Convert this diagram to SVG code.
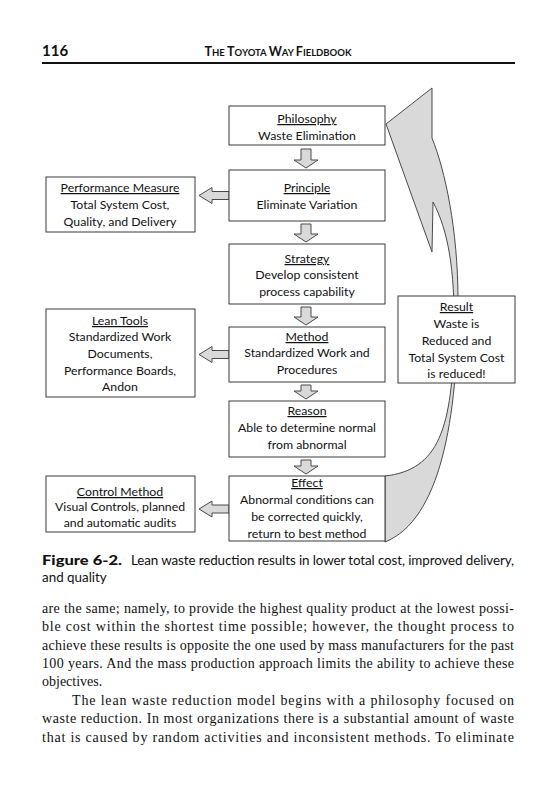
<svg xmlns="http://www.w3.org/2000/svg" width="558" height="800" viewBox="0 0 558 800">
<style>
.box{fill:#fff;stroke:#3a3a3a;stroke-width:1}
.t{font-family:Lato,"Open Sans",sans-serif;font-size:12.3px;fill:#111;text-anchor:middle}
.u{text-decoration:underline}
.arr{fill:#d9d9d9;stroke:#4a4a4a;stroke-width:1}
.body{font-family:"Liberation Serif",serif;font-size:14px;fill:#111}
.cap{font-family:Lato,"Open Sans",sans-serif;font-size:13.4px;fill:#111}
.hdr{font-family:Lato,"Open Sans",sans-serif;font-weight:bold;fill:#111}
</style>
<rect width="558" height="800" fill="#fff"/>
<g id="header">
<text class="hdr" x="42" y="56" font-size="15">116</text>
<text class="hdr" x="278" y="56" text-anchor="middle"><tspan font-size="12.5">T</tspan><tspan font-size="9.5">HE </tspan><tspan font-size="12.5">T</tspan><tspan font-size="9.5">OYOTA </tspan><tspan font-size="12.5">W</tspan><tspan font-size="9.5">AY </tspan><tspan font-size="12.5">F</tspan><tspan font-size="9.5">IELDBOOK</tspan></text>
<line x1="42" y1="63" x2="515" y2="63" stroke="#111" stroke-width="2"/>
</g>
<g id="connectors">
<path id="result-arrow" class="arr" d="M386 124 L432 88 L432 138 C445 170 458 230 458 300 C458 420 440 520 385 542 L385 476 C438 470 453 430 454 330 C455 270 448 230 433 202 L432 252 Z"/>
<path class="arr" d="M301 149 L311 149 L311 160 L318 160 L306 168 L294 160 L301 160 Z"/>
<path class="arr" d="M301 224 L311 224 L311 234 L318 234 L306 242 L294 234 L301 234 Z"/>
<path class="arr" d="M301 307 L311 307 L311 317 L318 317 L306 325 L294 317 L301 317 Z"/>
<path class="arr" d="M301 385 L311 385 L311 391 L318 391 L306 399 L294 391 L301 391 Z"/>
<path class="arr" d="M301 460 L311 460 L311 466 L318 466 L306 474 L294 466 L301 466 Z"/>
<path class="arr" d="M229 191.5 L229 199.5 L212 199.5 L212 203.5 L199 195.5 L212 187.5 L212 191.5 Z"/>
<path class="arr" d="M229 350.5 L229 358.5 L212 358.5 L212 362.5 L199 354.5 L212 346.5 L212 350.5 Z"/>
<path class="arr" d="M229 505 L229 513 L212 513 L212 517 L199 509 L212 501 L212 505 Z"/>
</g>
<g id="philosophy">
<rect class="box" x="229" y="106" width="156" height="39"/>
<text class="t" x="307" y="123"><tspan class="u">Philosophy</tspan></text>
<text class="t" x="307" y="140">Waste Elimination</text>
</g>
<g id="principle">
<rect class="box" x="229" y="170" width="156" height="51"/>
<text class="t" x="307" y="192"><tspan class="u">Principle</tspan></text>
<text class="t" x="307" y="209">Eliminate Variation</text>
</g>
<g id="strategy">
<rect class="box" x="229" y="244" width="156" height="60"/>
<text class="t" x="307" y="263"><tspan class="u">Strategy</tspan></text>
<text class="t" x="307" y="279">Develop consistent</text>
<text class="t" x="307" y="296">process capability</text>
</g>
<g id="method">
<rect class="box" x="229" y="327" width="156" height="55"/>
<text class="t" x="307" y="341"><tspan class="u">Method</tspan></text>
<text class="t" x="307" y="357">Standardized Work and</text>
<text class="t" x="307" y="374">Procedures</text>
</g>
<g id="reason">
<rect class="box" x="229" y="401" width="156" height="56"/>
<text class="t" x="307" y="415"><tspan class="u">Reason</tspan></text>
<text class="t" x="307" y="432">Able to determine normal</text>
<text class="t" x="307" y="449">from abnormal</text>
</g>
<g id="effect">
<rect class="box" x="229" y="476" width="156" height="65"/>
<text class="t" x="307" y="487"><tspan class="u">Effect</tspan></text>
<text class="t" x="307" y="504">Abnormal conditions can</text>
<text class="t" x="307" y="521">be corrected quickly,</text>
<text class="t" x="307" y="538">return to best method</text>
</g>
<g id="performance-measure">
<rect class="box" x="46" y="177" width="149" height="55"/>
<text class="t" x="120" y="192"><tspan class="u">Performance Measure</tspan></text>
<text class="t" x="120" y="209">Total System Cost,</text>
<text class="t" x="120" y="226">Quality, and Delivery</text>
</g>
<g id="lean-tools">
<rect class="box" x="46" y="309" width="149" height="88"/>
<text class="t" x="120" y="325"><tspan class="u">Lean Tools</tspan></text>
<text class="t" x="120" y="341">Standardized Work</text>
<text class="t" x="120" y="358">Documents,</text>
<text class="t" x="120" y="375">Performance Boards,</text>
<text class="t" x="120" y="391">Andon</text>
</g>
<g id="control-method">
<rect class="box" x="46" y="476" width="149" height="56"/>
<text class="t" x="120" y="496"><tspan class="u">Control Method</tspan></text>
<text class="t" x="120" y="511">Visual Controls, planned</text>
<text class="t" x="120" y="527">and automatic audits</text>
</g>
<g id="result">
<rect class="box" x="398" y="296" width="117" height="87"/>
<text class="t" x="456.5" y="311"><tspan class="u">Result</tspan></text>
<text class="t" x="456.5" y="328">Waste is</text>
<text class="t" x="456.5" y="345">Reduced and</text>
<text class="t" x="456.5" y="362">Total System Cost</text>
<text class="t" x="456.5" y="378">is reduced!</text>
</g>
<g id="caption">
<text class="cap" x="42" y="565" font-weight="900" font-size="14.5" textLength="80" lengthAdjust="spacingAndGlyphs">Figure 6-2.</text>
<text class="cap" x="131" y="565" textLength="383" lengthAdjust="spacing">Lean waste reduction results in lower total cost, improved delivery,</text>
<text class="cap" x="42" y="582">and quality</text>
</g>
<g id="body">
<text class="body" x="42" y="613" textLength="472" lengthAdjust="spacing">are the same; namely, to provide the highest quality product at the lowest possi-</text>
<text class="body" x="42" y="631" textLength="472" lengthAdjust="spacing">ble cost within the shortest time possible; however, the thought process to</text>
<text class="body" x="42" y="650" textLength="472" lengthAdjust="spacing">achieve these results is opposite the one used by mass manufacturers for the past</text>
<text class="body" x="42" y="668" textLength="472" lengthAdjust="spacing">100 years. And the mass production approach limits the ability to achieve these</text>
<text class="body" x="42" y="686">objectives.</text>
<text class="body" x="72" y="705" textLength="442" lengthAdjust="spacing">The lean waste reduction model begins with a philosophy focused on</text>
<text class="body" x="42" y="723" textLength="472" lengthAdjust="spacing">waste reduction. In most organizations there is a substantial amount of waste</text>
<text class="body" x="42" y="742" textLength="472" lengthAdjust="spacing">that is caused by random activities and inconsistent methods. To eliminate</text>
</g>
</svg>
